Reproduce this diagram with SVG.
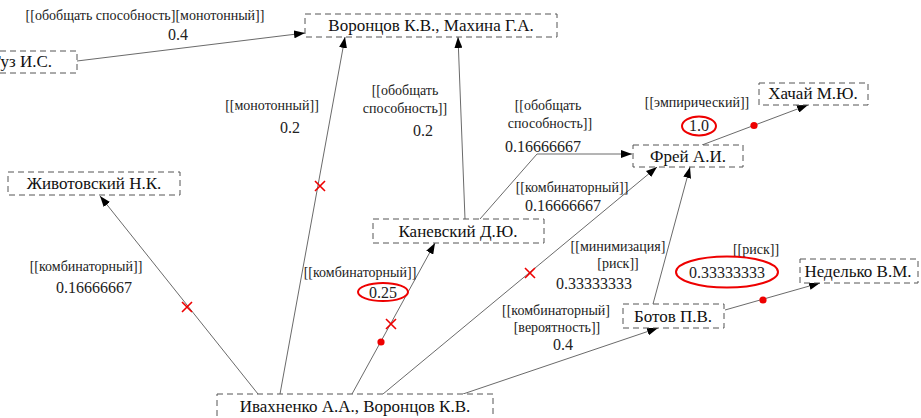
<svg xmlns="http://www.w3.org/2000/svg" width="921" height="418" viewBox="0 0 921 418">
<defs>
<marker id="arr" markerUnits="userSpaceOnUse" markerWidth="11" markerHeight="8" refX="11" refY="4" orient="auto">
<path d="M0,0 L11,4 L0,8 z" fill="#000"/>
</marker>
<style>
text{font-family:'Liberation Serif','Times New Roman','DejaVu Serif',serif}
.box{fill:#fff;stroke:#555;stroke-width:1;stroke-dasharray:6,4}
.nt{font-size:17px;fill:#111;text-anchor:middle}
.lb{font-size:14px;fill:#222;text-anchor:middle}
.nm{font-size:16px;fill:#222;text-anchor:middle}
.ea{fill:none;stroke:#444;stroke-width:0.8;marker-end:url(#arr)}
.x{stroke:#e00;stroke-width:1.6}
.dot{fill:#e00}
.ov{fill:none;stroke:#e00;stroke-width:2}
</style>
</defs>
<rect width="921" height="418" fill="#fff"/>
<g id="connectors">
<line class="ea" x1="77" y1="61" x2="305" y2="33"/>
<line class="ea" x1="258" y1="394" x2="100" y2="196"/>
<line class="ea" x1="280" y1="394" x2="345" y2="37"/>
<line class="ea" x1="352" y1="394" x2="435" y2="243"/>
<line class="ea" x1="383" y1="394" x2="657" y2="167"/>
<line class="ea" x1="463" y1="394" x2="658" y2="328"/>
<line class="ea" x1="465" y1="219" x2="458" y2="37"/>
<polyline class="ea" points="480,219 537,154 632,154"/>
<line class="ea" x1="702" y1="145" x2="808" y2="105"/>
<line class="ea" x1="653" y1="304" x2="690" y2="167"/>
<line class="ea" x1="725" y1="310" x2="820" y2="283"/>
<g id="marks">
<path class="x" d="M182,302 l10,10 M192,302 l-10,10"/>
<path class="x" d="M315,181 l10,10 M325,181 l-10,10"/>
<path class="x" d="M386,319 l10,10 M396,319 l-10,10"/>
<path class="x" d="M525,268 l10,10 M535,268 l-10,10"/>
<circle class="dot" cx="381" cy="342" r="3.6"/>
<circle class="dot" cx="754" cy="125.5" r="3.6"/>
<circle class="dot" cx="763" cy="300" r="3.6"/>
</g>
<g id="labels">
<text class="lb" x="145" y="20" font-family="Liberation Serif">[[обобщать способность][монотонный]]</text>
<text class="nm" x="178" y="40" font-family="Liberation Serif">0.4</text>
<text class="lb" x="272" y="110" font-family="Liberation Serif">[[монотонный]]</text>
<text class="nm" x="290" y="133" font-family="Liberation Serif">0.2</text>
<text class="lb" x="405" y="95" font-family="Liberation Serif">[[обобщать</text>
<text class="lb" x="405" y="113" font-family="Liberation Serif">способность]]</text>
<text class="nm" x="423" y="136" font-family="Liberation Serif">0.2</text>
<text class="lb" x="548" y="110" font-family="Liberation Serif">[[обобщать</text>
<text class="lb" x="550" y="128" font-family="Liberation Serif">способность]]</text>
<text class="nm" x="543" y="152" font-family="Liberation Serif">0.16666667</text>
<text class="lb" x="697" y="107" font-family="Liberation Serif">[[эмпирический]]</text>
<text class="nm" x="699" y="131" font-family="Liberation Serif">1.0</text>
<ellipse class="ov" cx="699" cy="126" rx="17" ry="9.5"/>
<text class="lb" x="572" y="192" font-family="Liberation Serif">[[комбинаторный]]</text>
<text class="nm" x="563" y="211" font-family="Liberation Serif">0.16666667</text>
<text class="lb" x="618" y="251" font-family="Liberation Serif">[[минимизация]</text>
<text class="lb" x="618" y="268" font-family="Liberation Serif">[риск]]</text>
<text class="nm" x="594" y="289" font-family="Liberation Serif">0.33333333</text>
<text class="lb" x="556" y="315" font-family="Liberation Serif">[[комбинаторный]</text>
<text class="lb" x="557" y="332" font-family="Liberation Serif">[вероятность]]</text>
<text class="nm" x="563" y="350" font-family="Liberation Serif">0.4</text>
<text class="lb" x="756" y="254" font-family="Liberation Serif">[[риск]]</text>
<text class="nm" x="727" y="278" font-family="Liberation Serif">0.33333333</text>
<ellipse class="ov" cx="727" cy="272" rx="51" ry="15.5"/>
<text class="lb" x="360" y="277" font-family="Liberation Serif">[[комбинаторный]]</text>
<text class="nm" x="383" y="298" font-family="Liberation Serif">0.25</text>
<ellipse class="ov" cx="383" cy="292" rx="25" ry="9"/>
<text class="lb" x="86" y="271" font-family="Liberation Serif">[[комбинаторный]]</text>
<text class="nm" x="94" y="293" font-family="Liberation Serif">0.16666667</text>
</g>
</g>
<g id="nodes">
<g id="n-guz"><rect class="box" x="-40" y="51" width="117" height="22"/><text class="nt" x="52" y="67" style="text-anchor:end" font-family="Liberation Serif">Гуз И.С.</text></g>
<g id="n-vorontsov-makhina"><rect class="box" x="305" y="14" width="252" height="23"/><text class="nt" x="431" y="31" font-family="Liberation Serif">Воронцов К.В., Махина Г.А.</text></g>
<g id="n-khachai"><rect class="box" x="759" y="83" width="109" height="22"/><text class="nt" x="813" y="99" font-family="Liberation Serif">Хачай М.Ю.</text></g>
<g id="n-frei"><rect class="box" x="633" y="145" width="110" height="22"/><text class="nt" x="688" y="162" font-family="Liberation Serif">Фрей А.И.</text></g>
<g id="n-zhivotovsky"><rect class="box" x="8" y="172" width="172" height="23"/><text class="nt" x="94" y="189" font-family="Liberation Serif">Животовский Н.К.</text></g>
<g id="n-kanevsky"><rect class="box" x="373" y="219" width="171" height="24"/><text class="nt" x="458" y="237" font-family="Liberation Serif">Каневский Д.Ю.</text></g>
<g id="n-botov"><rect class="box" x="623" y="304" width="101" height="24"/><text class="nt" x="673" y="322" font-family="Liberation Serif">Ботов П.В.</text></g>
<g id="n-nedelko"><rect class="box" x="800" y="259" width="118" height="24"/><text class="nt" x="858" y="277" font-family="Liberation Serif">Неделько В.М.</text></g>
<g id="n-ivakhnenko"><rect class="box" x="217" y="394" width="276" height="30"/><text class="nt" x="355" y="412" font-family="Liberation Serif">Ивахненко А.А., Воронцов К.В.</text></g>
</g>
</svg>
